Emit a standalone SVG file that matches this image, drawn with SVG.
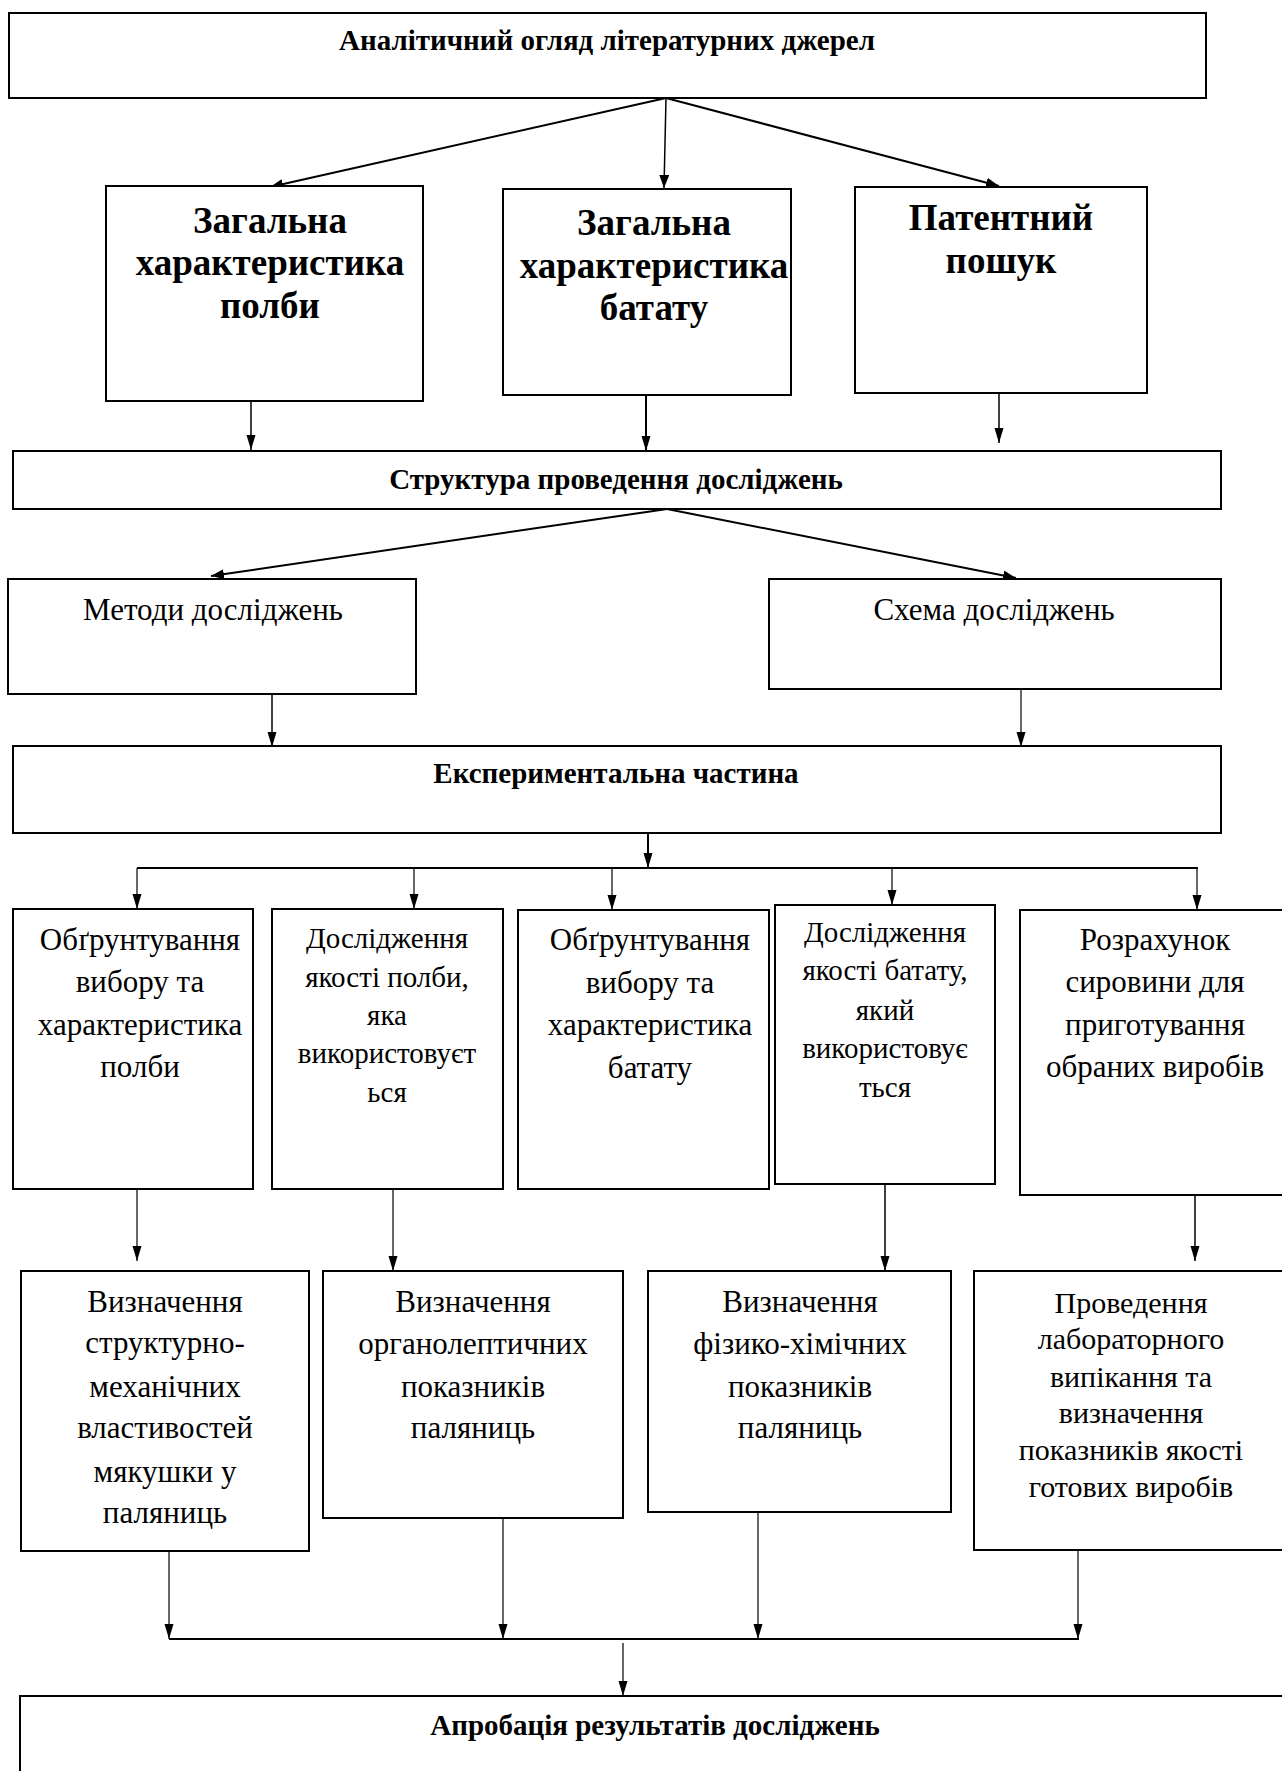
<svg xmlns="http://www.w3.org/2000/svg" width="1282" height="1771" viewBox="0 0 1282 1771">
<defs>
<style>
.box{fill:#fff;stroke:#000;stroke-width:2}
.t{font-family:"Liberation Serif","Times New Roman",serif;text-anchor:middle;fill:#000}
.b{font-weight:bold}
.c{stroke:#000;fill:none}
.w2{stroke-width:2}
.w15{stroke-width:1.5}
.w1{stroke-width:1.2}
</style>
<marker id="ah" markerUnits="userSpaceOnUse" markerWidth="14" markerHeight="12" refX="13" refY="5" orient="auto">
<path d="M0,0 L13,5 L0,10 z" fill="#000"/>
</marker>
<marker id="av" markerUnits="userSpaceOnUse" markerWidth="16" markerHeight="10" refX="15" refY="4.5" orient="auto">
<path d="M0,0 L15,4.5 L0,9 z" fill="#000"/>
</marker>
</defs>
<rect width="1282" height="1771" fill="#fff"/>

<g id="connectors">
<line class="c w2" x1="666" y1="98" x2="270" y2="187" marker-end="url(#ah)"/>
<line class="c w15" x1="666" y1="98" x2="664" y2="188" marker-end="url(#ah)"/>
<line class="c w2" x1="666" y1="98" x2="999" y2="186" marker-end="url(#ah)"/>
<line class="c w15" x1="251" y1="401" x2="251" y2="450" marker-end="url(#av)"/>
<line class="c w2" x1="646" y1="395" x2="646" y2="451" marker-end="url(#av)"/>
<line class="c w15" x1="999" y1="393" x2="999" y2="443" marker-end="url(#av)"/>
<line class="c w2" x1="667" y1="509" x2="211" y2="576" marker-end="url(#ah)"/>
<line class="c w2" x1="667" y1="509" x2="1016" y2="578" marker-end="url(#ah)"/>
<line class="c w15" x1="272" y1="694" x2="272" y2="747" marker-end="url(#av)"/>
<line class="c w1" x1="1021" y1="689" x2="1021" y2="747" marker-end="url(#av)"/>
<line class="c w2" x1="648" y1="833" x2="648" y2="868" marker-end="url(#av)"/>
<line class="c w2" x1="137" y1="868" x2="1198" y2="868"/>
<line class="c w1" x1="137" y1="868" x2="137" y2="909" marker-end="url(#av)"/>
<line class="c w1" x1="414" y1="868" x2="414" y2="909" marker-end="url(#av)"/>
<line class="c w1" x1="612" y1="868" x2="612" y2="910" marker-end="url(#av)"/>
<line class="c w1" x1="892" y1="868" x2="892" y2="905" marker-end="url(#av)"/>
<line class="c w1" x1="1197" y1="868" x2="1197" y2="910" marker-end="url(#av)"/>
<line class="c w1" x1="137" y1="1189" x2="137" y2="1261" marker-end="url(#av)"/>
<line class="c w1" x1="393" y1="1189" x2="393" y2="1271" marker-end="url(#av)"/>
<line class="c w15" x1="885" y1="1184" x2="885" y2="1271" marker-end="url(#av)"/>
<line class="c w15" x1="1195" y1="1195" x2="1195" y2="1261" marker-end="url(#av)"/>
<line class="c w1" x1="169" y1="1551" x2="169" y2="1639" marker-end="url(#av)"/>
<line class="c w1" x1="503" y1="1518" x2="503" y2="1639" marker-end="url(#av)"/>
<line class="c w1" x1="758" y1="1512" x2="758" y2="1639" marker-end="url(#av)"/>
<line class="c w1" x1="1078" y1="1550" x2="1078" y2="1639" marker-end="url(#av)"/>
<line class="c w2" x1="169" y1="1639" x2="1079" y2="1639"/>
<line class="c w1" x1="623" y1="1643" x2="623" y2="1696" marker-end="url(#av)"/>
</g>

<g id="n-analit">
<rect class="box" x="9" y="13" width="1197" height="85"/>
<text class="t b" x="607" y="50" font-size="29">Аналітичний огляд літературних джерел</text>
</g>
<g id="n-polba">
<rect class="box" x="106" y="186" width="317" height="215"/>
<text class="t b" font-size="37"><tspan x="270" y="233">Загальна</tspan><tspan x="270" y="275">характеристика</tspan><tspan x="270" y="318">полби</tspan></text>
</g>
<g id="n-batat">
<rect class="box" x="503" y="189" width="288" height="206"/>
<text class="t b" font-size="37"><tspan x="654" y="235">Загальна</tspan><tspan x="654" y="278">характеристика</tspan><tspan x="654" y="320">батату</tspan></text>
</g>
<g id="n-patent">
<rect class="box" x="855" y="187" width="292" height="206"/>
<text class="t b" font-size="37"><tspan x="1001" y="230">Патентний</tspan><tspan x="1001" y="273">пошук</tspan></text>
</g>
<g id="n-struct">
<rect class="box" x="13" y="451" width="1208" height="58"/>
<text class="t b" x="616" y="489" font-size="29">Структура проведення досліджень</text>
</g>
<g id="n-metody">
<rect class="box" x="8" y="579" width="408" height="115"/>
<text class="t" x="213" y="620" font-size="31">Методи досліджень</text>
</g>
<g id="n-shema">
<rect class="box" x="769" y="579" width="452" height="110"/>
<text class="t" x="994" y="620" font-size="31">Схема досліджень</text>
</g>
<g id="n-exp">
<rect class="box" x="13" y="746" width="1208" height="87"/>
<text class="t b" x="616" y="783" font-size="29">Експериментальна частина</text>
</g>
<g id="n-c1">
<rect class="box" x="13" y="909" width="240" height="280"/>
<text class="t" font-size="31"><tspan x="140" y="950">Обґрунтування</tspan><tspan x="140" y="992">вибору та</tspan><tspan x="140" y="1035">характеристика</tspan><tspan x="140" y="1077">полби</tspan></text>
</g>
<g id="n-c2">
<rect class="box" x="272" y="909" width="231" height="280"/>
<text class="t" font-size="29"><tspan x="387" y="948">Дослідження</tspan><tspan x="387" y="987">якості полби,</tspan><tspan x="387" y="1025">яка</tspan><tspan x="387" y="1063">використовуєт</tspan><tspan x="387" y="1102">ься</tspan></text>
</g>
<g id="n-c3">
<rect class="box" x="518" y="910" width="251" height="279"/>
<text class="t" font-size="31"><tspan x="650" y="950">Обґрунтування</tspan><tspan x="650" y="993">вибору та</tspan><tspan x="650" y="1035">характеристика</tspan><tspan x="650" y="1078">батату</tspan></text>
</g>
<g id="n-c4">
<rect class="box" x="775" y="905" width="220" height="279"/>
<text class="t" font-size="29"><tspan x="885" y="942">Дослідження</tspan><tspan x="885" y="980">якості батату,</tspan><tspan x="885" y="1020">який</tspan><tspan x="885" y="1058">використовує</tspan><tspan x="885" y="1097">ться</tspan></text>
</g>
<g id="n-c5">
<rect class="box" x="1020" y="910" width="275" height="285"/>
<text class="t" font-size="31"><tspan x="1155" y="950">Розрахунок</tspan><tspan x="1155" y="992">сировини для</tspan><tspan x="1155" y="1035">приготування</tspan><tspan x="1155" y="1077">обраних виробів</tspan></text>
</g>
<g id="n-b1">
<rect class="box" x="21" y="1271" width="288" height="280"/>
<text class="t" font-size="31"><tspan x="165" y="1312">Визначення</tspan><tspan x="165" y="1353">структурно-</tspan><tspan x="165" y="1397">механічних</tspan><tspan x="165" y="1438">властивостей</tspan><tspan x="165" y="1482">мякушки у</tspan><tspan x="165" y="1523">паляниць</tspan></text>
</g>
<g id="n-b2">
<rect class="box" x="323" y="1271" width="300" height="247"/>
<text class="t" font-size="31"><tspan x="473" y="1312">Визначення</tspan><tspan x="473" y="1354">органолептичних</tspan><tspan x="473" y="1397">показників</tspan><tspan x="473" y="1438">паляниць</tspan></text>
</g>
<g id="n-b3">
<rect class="box" x="648" y="1271" width="303" height="241"/>
<text class="t" font-size="31"><tspan x="800" y="1312">Визначення</tspan><tspan x="800" y="1354">фізико-хімічних</tspan><tspan x="800" y="1397">показників</tspan><tspan x="800" y="1438">паляниць</tspan></text>
</g>
<g id="n-b4">
<rect class="box" x="974" y="1271" width="320" height="279"/>
<text class="t" font-size="30"><tspan x="1131" y="1313">Проведення</tspan><tspan x="1131" y="1349">лабораторного</tspan><tspan x="1131" y="1387">випікання та</tspan><tspan x="1131" y="1423">визначення</tspan><tspan x="1131" y="1460">показників якості</tspan><tspan x="1131" y="1497">готових виробів</tspan></text>
</g>
<g id="n-aprob">
<rect class="box" x="20" y="1696" width="1275" height="90"/>
<text class="t b" x="655" y="1735" font-size="29">Апробація результатів досліджень</text>
</g>
</svg>
